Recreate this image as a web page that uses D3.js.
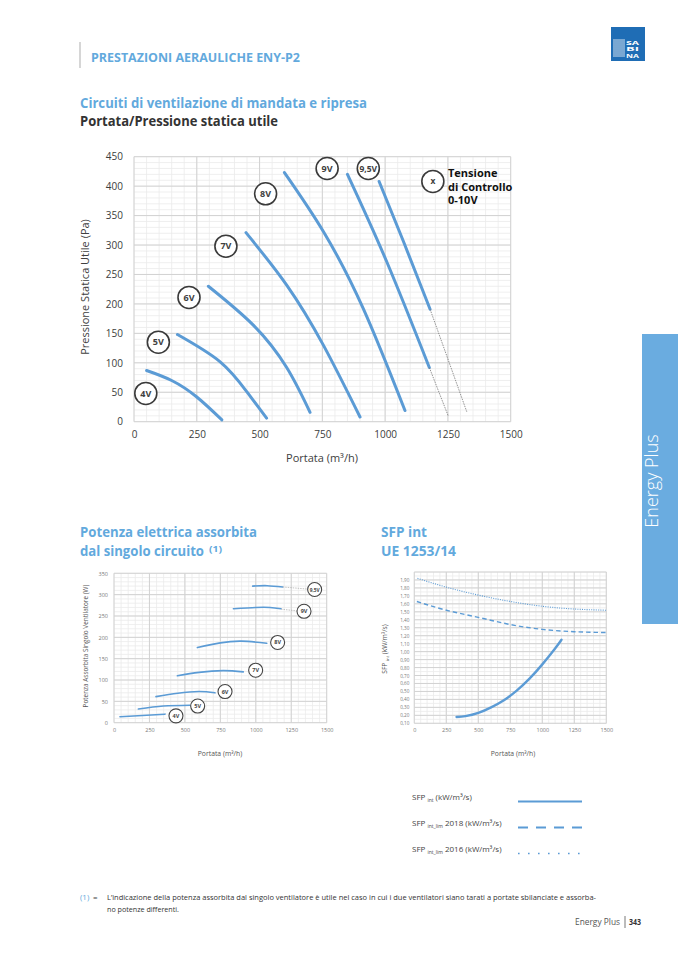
<!DOCTYPE html>
<html><head><meta charset="utf-8">
<script src="https://cdn.jsdelivr.net/npm/d3@7"></script>
<style>
body{margin:0;background:#fff}
svg{display:block}
text{font-family:"Open Sans","Noto Sans",sans-serif}
</style>
</head><body>
<svg id="page" width="678" height="959"></svg>
<script>
// ---------------- DATA ----------------
// Chart 1: Portata / Pressione statica utile
const pressXTicks = [0,250,500,750,1000,1250,1500];
const pressYTicks = [0,50,100,150,200,250,300,350,400,450];
const pressLabels = ["4V","5V","6V","7V","8V","9V","9,5V"];
const press4V  = [[50,87],[150,70],[250,42],[350,3]];
const press5V  = [[173,148],[342,102],[449,51],[528,6]];
const press6V  = [[296,230],[475,164],[608,92],[701,16]];
const press7V  = [[446,321],[608,232],[754,130],[900,8]];
const press8V  = [[599,423],[754,323],[913,192],[1079,19]];
const press9V  = [[850,420],[1006,272],[1176,92]];
const press95V = [[976,408],[1073,306],[1179,191]];
const pressExt9V  = [[1176,92],[1251,10]];
const pressExt95V = [[1179,191],[1325,17]];
const pressLabelAt = [[47,48],[97,135],[219,211],[366,298],[524,387],[769,430],[933,430]];
const pressKeyAt = [1190,408];

// Chart 2: Potenza assorbita
const powXTicks = [0,250,500,750,1000,1250,1500];
const powYTicks = [0,50,100,150,200,250,300,350];
const pow4V  = [[42,14],[200,17],[360,20]];
const pow5V  = [[172,32],[348,39],[536,41]];
const pow6V  = [[296,61],[450,69],[600,73],[712,70]];
const pow7V  = [[447,110],[600,118],[770,122],[912,119]];
const pow8V  = [[588,176],[750,187],[900,191],[1077,186]];
const pow9V  = [[842,267],[1000,270],[1100,270],[1178,267]];
const pow95V = [[978,320],[1080,321],[1190,318]];
const powLabelAt = [[437,16],[590,39],[783,73],[999,123],[1154,188],[1340,261],[1415,312]];
const powLink9V  = [[1178,266],[1290,262]];
const powLink95V = [[1190,318],[1366,313]];

// Chart 3: SFP int
const sfpXTicks = [0,250,500,750,1000,1250,1500];
const sfpYTicks = [0.1,0.2,0.3,0.4,0.5,0.6,0.7,0.8,0.9,1.0,1.1,1.2,1.3,1.4,1.5,1.6,1.7,1.8,1.9];
const sfpInt    = [[330,0.18],[400,0.19],[500,0.23],[600,0.30],[700,0.39],[800,0.51],[900,0.66],[1000,0.84],[1100,1.04],[1150,1.15]];
const sfpLim2018 = [[20,1.63],[250,1.52],[500,1.43],[750,1.34],[1000,1.28],[1250,1.25],[1500,1.24]];
const sfpLim2016 = [[25,1.92],[250,1.81],[500,1.71],[750,1.63],[1000,1.57],[1250,1.535],[1500,1.52]];

// ---------------- DRAW ----------------
const svg = d3.select("#page");
const BLUE = "#5b9bd5", HEAD = "#62a9dd", DARK = "#333";
const fmtInt = d3.format("d");
svg.append("rect").attr("width",678).attr("height",959).attr("fill","#fff");

function txt(g, x, y, s, o) {
  o = o || {};
  const t = g.append("text").attr("x",x).attr("y",y).text(s)
    .attr("font-size", o.size || 10).attr("fill", o.fill || DARK)
    .attr("font-weight", o.weight || 400).attr("text-anchor", o.anchor || "start");
  if (o.len) t.attr("textLength", o.len).attr("lengthAdjust","spacingAndGlyphs");
  return t;
}

// header
svg.append("line").attr("x1",80).attr("x2",80).attr("y1",42).attr("y2",68).attr("stroke","#bbb").attr("stroke-width",1.2);
txt(svg, 91, 61.5, "PRESTAZIONI AERAULICHE ENY-P2", {size:12.5, weight:700, fill:HEAD, len:209});
// logo
const logo = svg.append("g");
logo.append("rect").attr("x",611).attr("y",27).attr("width",34).attr("height",34).attr("fill","#1f6db5");
d3.range(9).forEach(i => logo.append("line").attr("x1",613).attr("x2",625).attr("y1",40+i*2).attr("y2",40+i*2)
  .attr("stroke","#fff").attr("stroke-width",0.9).attr("opacity",0.9));
["SA","BI","NA"].forEach((s,i) => txt(logo, 626, 44.5+i*6.6, s, {size:4.8, weight:700, fill:"#fff", len:13}));

// side tab
svg.append("rect").attr("x",642).attr("y",334).attr("width",36).attr("height",290).attr("fill","#6aace0");
svg.append("text").attr("transform","translate(658,481) rotate(-90)").attr("text-anchor","middle")
  .attr("font-size",18).attr("font-weight",300).attr("fill","#fff").text("Energy Plus");

// titles
txt(svg, 80, 108, "Circuiti di ventilazione di mandata e ripresa", {size:14.5, weight:700, fill:HEAD, len:287});
txt(svg, 80, 126, "Portata/Pressione statica utile", {size:14.5, weight:700, fill:DARK, len:198});

function drawGrid(g, x, y, xMinor, yMinor, xMajor, yMajor) {
  const [x0,x1] = x.range(), [y0,y1] = y.range();
  g.selectAll(null).data(xMinor).join("line").attr("x1",d=>x(d)).attr("x2",d=>x(d)).attr("y1",y0).attr("y2",y1)
    .attr("stroke","#ebebeb").attr("stroke-width",0.8);
  g.selectAll(null).data(yMinor).join("line").attr("y1",d=>y(d)).attr("y2",d=>y(d)).attr("x1",x0).attr("x2",x1)
    .attr("stroke","#ebebeb").attr("stroke-width",0.8);
  g.selectAll(null).data(xMajor).join("line").attr("x1",d=>x(d)).attr("x2",d=>x(d)).attr("y1",y0).attr("y2",y1)
    .attr("stroke","#d2d2d2").attr("stroke-width",1);
  g.selectAll(null).data(yMajor).join("line").attr("y1",d=>y(d)).attr("y2",d=>y(d)).attr("x1",x0).attr("x2",x1)
    .attr("stroke","#d2d2d2").attr("stroke-width",1);
}

// ---------- Chart 1 ----------
{
  const x = d3.scaleLinear().domain([0,1500]).range([134,510.7]);
  const y = d3.scaleLinear().domain([0,450]).range([421.7,156.7]);
  const g = svg.append("g");
  drawGrid(g, x, y, d3.range(0,1501,50), d3.range(0,451,10), pressXTicks, pressYTicks);
  const ya = g.append("g").attr("transform",`translate(${x(0)},0)`).call(d3.axisLeft(y).tickValues(pressYTicks).tickFormat(fmtInt).tickSize(0).tickPadding(11));
  const xa = g.append("g").attr("transform",`translate(0,${y(0)})`).call(d3.axisBottom(x).tickValues(pressXTicks).tickFormat(fmtInt).tickSize(0).tickPadding(9));
  [ya,xa].forEach(a => { a.select(".domain").remove(); a.selectAll("text").attr("font-size",10).attr("fill","#3c3c3c")
      .attr("font-family",'"Open Sans",sans-serif'); });
  const line = d3.line().x(d=>x(d[0])).y(d=>y(d[1])).curve(d3.curveNatural);
  [press4V,press5V,press6V,press7V,press8V,press9V,press95V].forEach(c =>
    g.append("path").attr("d",line(c)).attr("fill","none").attr("stroke",BLUE).attr("stroke-width",3).attr("stroke-linecap","round"));
  [pressExt9V,pressExt95V].forEach(c =>
    g.append("path").attr("d",line(c)).attr("fill","none").attr("stroke","#777").attr("stroke-width",0.8).attr("stroke-dasharray","1.5,1"));
  pressLabels.forEach((s,i) => {
    const [dx,dy] = pressLabelAt[i];
    g.append("circle").attr("cx",x(dx)).attr("cy",y(dy)).attr("r",11).attr("fill","#fff").attr("stroke","#3a3a3a").attr("stroke-width",1.6);
    txt(g, x(dx), y(dy)+3.2, s, {size: s.length>2?8.5:9, weight:700, fill:"#404040", anchor:"middle"});
  });
  g.append("circle").attr("cx",x(pressKeyAt[0])).attr("cy",y(pressKeyAt[1])).attr("r",11).attr("fill","#fff").attr("stroke","#3a3a3a").attr("stroke-width",1.6);
  txt(g, x(pressKeyAt[0]), y(pressKeyAt[1])+3, "x", {size:8.5, weight:700, fill:"#404040", anchor:"middle"});
  ["Tensione","di Controllo","0-10V"].forEach((s,i) => txt(g, 448, 177+i*13.7, s, {size:11, weight:700, fill:"#111"}));
  svg.append("text").attr("transform","translate(89,287) rotate(-90)").attr("text-anchor","middle")
    .attr("font-size",11).attr("fill","#404040").text("Pressione Statica Utile (Pa)");
  txt(svg, 322, 462, "Portata (m³/h)", {size:11, fill:"#404040", anchor:"middle"});
}

// ---------- Chart 2 ----------
txt(svg, 80, 537, "Potenza elettrica assorbita", {size:14.5, weight:700, fill:HEAD, len:177});
txt(svg, 80, 555.5, "dal singolo circuito", {size:14.5, weight:700, fill:HEAD, len:124});
txt(svg, 209, 552, "(1)", {size:9.5, weight:700, fill:HEAD, len:13});
{
  const x = d3.scaleLinear().domain([0,1500]).range([114,326.7]);
  const y = d3.scaleLinear().domain([0,350]).range([722.7,573.3]);
  const g = svg.append("g");
  drawGrid(g, x, y, d3.range(0,1501,50), d3.range(0,351,10), powXTicks, powYTicks);
  const ya = g.append("g").attr("transform",`translate(${x(0)},0)`).call(d3.axisLeft(y).tickValues(powYTicks).tickFormat(fmtInt).tickSize(0).tickPadding(6));
  const xa = g.append("g").attr("transform",`translate(0,${y(0)})`).call(d3.axisBottom(x).tickValues(powXTicks).tickFormat(fmtInt).tickSize(0).tickPadding(5));
  [ya,xa].forEach(a => { a.select(".domain").remove(); a.selectAll("text").attr("font-size",5.5).attr("fill","#777")
      .attr("font-family",'"Open Sans",sans-serif'); });
  const line = d3.line().x(d=>x(d[0])).y(d=>y(d[1])).curve(d3.curveNatural);
  [pow4V,pow5V,pow6V,pow7V,pow8V,pow9V,pow95V].forEach(c =>
    g.append("path").attr("d",line(c)).attr("fill","none").attr("stroke",BLUE).attr("stroke-width",1.6).attr("stroke-linecap","round"));
  [powLink9V,powLink95V].forEach(c =>
    g.append("path").attr("d",d3.line().x(d=>x(d[0])).y(d=>y(d[1]))(c)).attr("fill","none").attr("stroke","#aaa").attr("stroke-width",0.7).attr("stroke-dasharray","1.5,1"));
  pressLabels.forEach((s,i) => {
    const [dx,dy] = powLabelAt[i];
    g.append("circle").attr("cx",x(dx)).attr("cy",y(dy)).attr("r",7).attr("fill","#fff").attr("stroke","#444").attr("stroke-width",1.1);
    txt(g, x(dx), y(dy)+2, s, {size: s.length>2?4.8:5.5, weight:700, fill:"#444", anchor:"middle"});
  });
  svg.append("text").attr("transform","translate(88,646) rotate(-90)").attr("text-anchor","middle")
    .attr("font-size",6.4).attr("fill","#555").text("Potenza Assorbita Singolo Ventilatore (W)");
  txt(svg, 220, 755.5, "Portata (m³/h)", {size:6.8, fill:"#555", anchor:"middle"});
}

// ---------- Chart 3 ----------
txt(svg, 381, 537, "SFP int", {size:14.5, weight:700, fill:HEAD, len:46});
txt(svg, 381, 555.5, "UE 1253/14", {size:14.5, weight:700, fill:HEAD, len:75});
const fmtIt = v => d3.format(".2f")(v).replace(".",",");
{
  const x = d3.scaleLinear().domain([0,1500]).range([414.3,606.3]);
  const y = d3.scaleLinear().domain([0.1,2.0]).range([723.3,572]);
  const g = svg.append("g");
  drawGrid(g, x, y, d3.range(0,1501,50), d3.range(0,39).map(i=>0.1+i*0.05), sfpXTicks, sfpYTicks.concat([2.0]));
  const ya = g.append("g").attr("transform",`translate(${x(0)},0)`).call(d3.axisLeft(y).tickValues(sfpYTicks).tickFormat(fmtIt).tickSize(0).tickPadding(5));
  const xa = g.append("g").attr("transform",`translate(0,${y(0.1)})`).call(d3.axisBottom(x).tickValues(sfpXTicks).tickFormat(fmtInt).tickSize(0).tickPadding(5));
  ya.select(".domain").remove(); xa.select(".domain").remove();
  ya.selectAll("text").attr("font-size",4.6).attr("fill","#777").attr("font-family",'"Open Sans",sans-serif');
  xa.selectAll("text").attr("font-size",5.5).attr("fill","#777").attr("font-family",'"Open Sans",sans-serif');
  const line = d3.line().x(d=>x(d[0])).y(d=>y(d[1])).curve(d3.curveNatural);
  g.append("path").attr("d",line(sfpLim2016)).attr("fill","none").attr("stroke",BLUE).attr("stroke-width",1.1).attr("stroke-dasharray","1,1.3");
  g.append("path").attr("d",line(sfpLim2018)).attr("fill","none").attr("stroke",BLUE).attr("stroke-width",1.4).attr("stroke-dasharray","4.5,3");
  g.append("path").attr("d",line(sfpInt)).attr("fill","none").attr("stroke",BLUE).attr("stroke-width",2.4).attr("stroke-linecap","round");
  const yl = svg.append("text").attr("transform","translate(387,649) rotate(-90)").attr("text-anchor","middle")
    .attr("font-size",6.6).attr("fill","#555");
  yl.append("tspan").text("SFP ");
  yl.append("tspan").attr("font-size",4.2).attr("dy",1.5).text("int");
  yl.append("tspan").attr("dy",-1.5).text(" (kW/m³/s)");
  txt(svg, 513, 755.5, "Portata (m³/h)", {size:6.8, fill:"#555", anchor:"middle"});
}

// legend
const legendItems = [["int",""," (kW/m³/s)","none",2],["int_lim"," 2018"," (kW/m³/s)","10,8",2],["int_lim"," 2016"," (kW/m³/s)","1.6,8.4",1.6]];
legendItems.forEach((it,i) => {
  const yy = 800 + i*26;
  const t = svg.append("text").attr("x",412).attr("y",yy).attr("font-size",8).attr("fill","#444");
  t.append("tspan").text("SFP ");
  t.append("tspan").attr("font-size",5).attr("dy",1.8).text(it[0]);
  t.append("tspan").attr("dy",-1.8).text(it[1] + it[2]);
  svg.append("line").attr("x1",518).attr("x2",582).attr("y1",yy+1.5).attr("y2",yy+1.5).attr("stroke",BLUE)
    .attr("stroke-width",it[4]).attr("stroke-dasharray",it[3]);
});

// footnote
txt(svg, 80, 899.5, "(1)", {size:8, fill:HEAD});
txt(svg, 93, 899.5, "=", {size:8, fill:"#444"});
txt(svg, 107, 899.5, "L’indicazione della potenza assorbita dal singolo ventilatore è utile nel caso in cui i due ventilatori siano tarati a portate sbilanciate e assorba-", {size:8, fill:"#333", len:489});
txt(svg, 107, 911.5, "no potenze differenti.", {size:8, fill:"#333", len:72});
// page footer
txt(svg, 620, 925, "Energy Plus", {size:8.5, fill:"#555", anchor:"end", len:45});
svg.append("line").attr("x1",625).attr("x2",625).attr("y1",916).attr("y2",928).attr("stroke","#555").attr("stroke-width",0.8);
txt(svg, 629, 925, "343", {size:8.5, weight:700, fill:"#333", len:12});
</script>
</body></html>
